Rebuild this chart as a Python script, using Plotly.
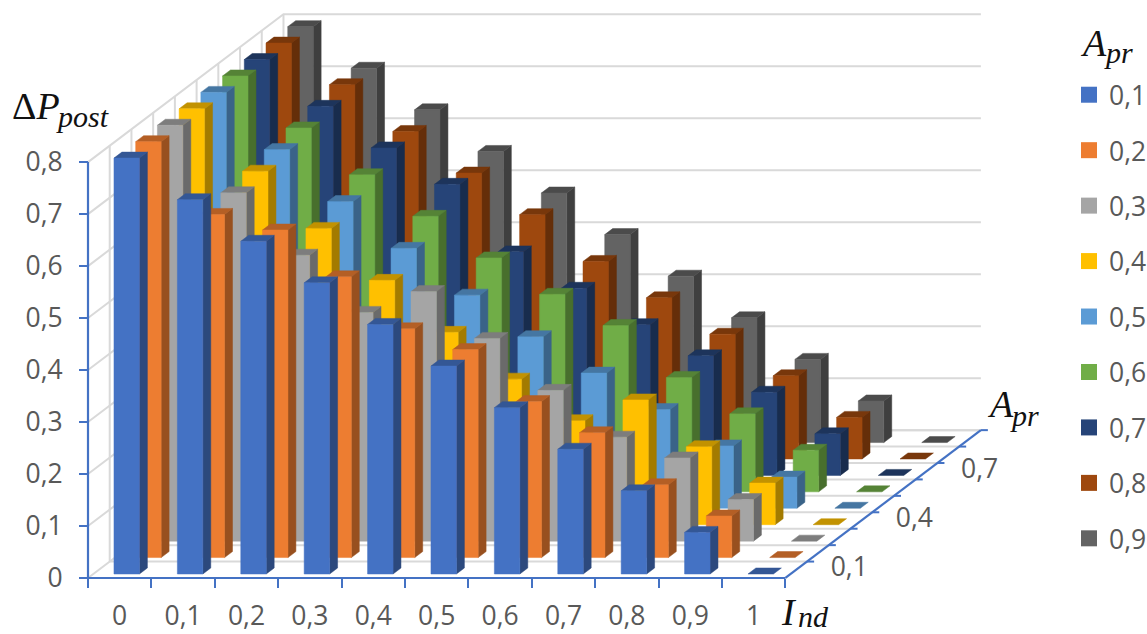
import plotly.graph_objects as go

# Categories along the front axis and the value axis
ind_values = [0, 1, 2, 3, 4, 5, 6, 7, 8, 9, 10]
ind_labels = ["0", "0,1", "0,2", "0,3", "0,4", "0,5", "0,6", "0,7", "0,8", "0,9", "1"]
value_ticks = [0, 0.1, 0.2, 0.3, 0.4, 0.5, 0.6, 0.7, 0.8]
value_labels = ["0", "0,1", "0,2", "0,3", "0,4", "0,5", "0,6", "0,7", "0,8"]
apr_labels = ["0,1", "0,2", "0,3", "0,4", "0,5", "0,6", "0,7", "0,8", "0,9"]

# Delta P post for each A_pr series, one value per I_nd category
apr_01 = [0.80, 0.72, 0.64, 0.56, 0.48, 0.40, 0.32, 0.24, 0.16, 0.08, 0]
apr_02 = [0.80, 0.66, 0.63, 0.54, 0.44, 0.40, 0.30, 0.24, 0.14, 0.08, 0]
apr_03 = [0.80, 0.67, 0.55, 0.44, 0.48, 0.39, 0.29, 0.20, 0.16, 0.08, 0]
apr_04 = [0.80, 0.68, 0.57, 0.47, 0.37, 0.28, 0.20, 0.24, 0.15, 0.08, 0]
apr_05 = [0.80, 0.69, 0.59, 0.50, 0.41, 0.33, 0.26, 0.19, 0.12, 0.06, 0]
apr_06 = [0.80, 0.70, 0.61, 0.53, 0.45, 0.38, 0.32, 0.22, 0.15, 0.08, 0]
apr_07 = [0.80, 0.71, 0.63, 0.56, 0.43, 0.36, 0.29, 0.23, 0.16, 0.08, 0]
apr_08 = [0.80, 0.72, 0.63, 0.55, 0.47, 0.38, 0.31, 0.24, 0.16, 0.08, 0]
apr_09 = [0.80, 0.72, 0.64, 0.56, 0.48, 0.40, 0.32, 0.24, 0.16, 0.08, 0]
series = [apr_01, apr_02, apr_03, apr_04, apr_05, apr_06, apr_07, apr_08, apr_09]

colors = ["#4472C4", "#ED7D31", "#A5A5A5", "#FFC000", "#5B9BD5",
          "#70AD47", "#264478", "#9E480E", "#636363"]

WIDTH, HEIGHT = 1147, 634
ORIGIN_X, ORIGIN_Y = 88.0, 577.7  # pixel position of the chart origin
PAD = 10.0                        # room around the origin so axis lines are not clipped
LEFT, BOTTOM = ORIGIN_X - PAD, ORIGIN_Y + PAD
RIGHT = 1000.0
PX_PER_CAT = 63.4
PX_PER_VAL = 519.6

# Oblique projection: one depth row moves a point right and up
ROW_X = 21.72 / PX_PER_CAT
ROW_Y = 16.42 / PX_PER_VAL
ROWS = 9
BAR_LEFT, BAR_W = -0.174, 0.402   # in categories
BAR_FRONT, BAR_D = 0.244, 0.365   # in depth rows

GRID = "#D9D9D9"
AXIS = "#4472C4"
TEXT = "#595959"
LABEL_FONT = "Open Sans"
LABEL_SIZE = 26.5
MATH_FONT = "Liberation Serif"


def project(cat, depth, val):
    return cat + depth * ROW_X, val + depth * ROW_Y


def shade(hex_color, k):
    r, g, b = (int(hex_color[i:i + 2], 16) for i in (1, 3, 5))
    return f"rgb({r * k:.0f},{g * k:.0f},{b * k:.0f})"


def polygons(faces):
    xs, ys = [], []
    for face in faces:
        pts = [project(*p) for p in face]
        xs += [p[0] for p in pts] + [pts[0][0], None]
        ys += [p[1] for p in pts] + [pts[0][1], None]
    return xs, ys


fig = go.Figure()
x_min = -0.5
x_end = 10.5
v_top = value_ticks[-1]
x_range = [x_min - PAD / PX_PER_CAT, x_min + (RIGHT - ORIGIN_X) / PX_PER_CAT]
y_range = [-PAD / PX_PER_VAL, ORIGIN_Y / PX_PER_VAL]


def line(xs, ys, color, width):
    fig.add_trace(go.Scatter(x=xs, y=ys, mode="lines", showlegend=False, hoverinfo="skip",
                             line=dict(color=color, width=width)))


# Wall and floor grid
for v in value_ticks:
    p0 = project(x_min, 0, v)
    p1 = project(x_min, ROWS, v)
    p2 = project(x_end, ROWS, v)
    line([p0[0], p1[0], p2[0]], [p0[1], p1[1], p2[1]], GRID, 2)
for k in range(1, ROWS + 1):
    p0 = project(x_min, k, 0)
    p1 = project(x_min, k, v_top)
    p2 = project(x_end, k, 0)
    line([p0[0], p1[0]], [p0[1], p1[1]], GRID, 2)
    line([p0[0], p2[0]], [p0[1], p2[1]], GRID, 2)

# Bars, back row first so that nearer rows paint over farther ones
for row in range(ROWS - 1, -1, -1):
    d0, d1 = row + BAR_FRONT, row + BAR_FRONT + BAR_D
    front, side, top = [], [], []
    for cat, val in zip(ind_values, series[row]):
        c0, c1 = cat + BAR_LEFT, cat + BAR_LEFT + BAR_W
        if val > 0:
            front.append([(c0, d0, 0), (c1, d0, 0), (c1, d0, val), (c0, d0, val)])
            side.append([(c1, d0, 0), (c1, d1, 0), (c1, d1, val), (c1, d0, val)])
        top.append([(c0, d0, val), (c1, d0, val), (c1, d1, val), (c0, d1, val)])
    for faces, k in ((side, 0.64), (top, 0.76), (front, 1.0)):
        xs, ys = polygons(faces)
        color = shade(colors[row], k)
        fig.add_trace(go.Scatter(x=xs, y=ys, mode="lines", fill="toself", fillcolor=color,
                                 line=dict(color=color, width=0.5), showlegend=False,
                                 hoverinfo="skip"))

# Axis lines and the depth axis with its ticks and labels
line([x_min, x_end], [0, 0], AXIS, 2.2)
line([x_min, x_min], [0, v_top], AXIS, 2.2)
end = project(x_end, ROWS, 0)
line([x_end, end[0]], [0, end[1]], AXIS, 2.2)
for k in range(1, ROWS + 1):
    p = project(x_end, k, 0)
    line([p[0], p[0] + 7 / PX_PER_CAT], [p[1], p[1]], AXIS, 2)

depth_ticks = [0, 3, 6]
depth_texts = [apr_labels[i] for i in depth_ticks]
anchors = [project(x_end, i + 0.5, 0) for i in depth_ticks]
fig.add_trace(go.Scatter(x=[p[0] + 53 / PX_PER_CAT for p in anchors], y=[p[1] for p in anchors],
                         mode="text", text=depth_texts, showlegend=False, hoverinfo="skip",
                         textfont=dict(family=LABEL_FONT, size=LABEL_SIZE, color=TEXT), cliponaxis=False))

# Legend entries, each in its own group so the gap sets the row spacing
for name, color in zip(apr_labels, colors):
    fig.add_trace(go.Scatter(x=[None], y=[None], mode="markers", name=name, legendgroup=name,
                             marker=dict(symbol="square", size=17, color=color)))


def px_x(px):
    return (px - LEFT) / (RIGHT - LEFT)


def px_y(px):
    return (BOTTOM - px) / BOTTOM


def math_text(x, y, text, size):
    fig.add_annotation(x=px_x(x), y=px_y(y), xref="paper", yref="paper", text=text, showarrow=False,
                       xanchor="left", yanchor="middle", align="left",
                       font=dict(family=MATH_FONT, size=size, color="#111111"))


# Math-style axis and legend titles
math_text(10, 106, "Δ<i>P</i>", 38)
math_text(54, 116, "<i>post</i>", 30)
math_text(1078, 43, "<i>A</i>", 38)
math_text(1102, 52, "<i>pr</i>", 30)
math_text(985, 404, "<i>A</i>", 38)
math_text(1008, 415, "<i>pr</i>", 30)
math_text(779, 612, "<i>I</i>", 38)
math_text(796, 616, "<i>nd</i>", 30)

fig.update_layout(
    width=WIDTH, height=HEIGHT, autosize=False,
    margin=dict(l=LEFT, r=WIDTH - RIGHT, t=0, b=HEIGHT - BOTTOM, pad=0),
    paper_bgcolor="white", plot_bgcolor="white",
    font=dict(family=LABEL_FONT, size=LABEL_SIZE, color=TEXT),
    xaxis=dict(range=x_range, tickmode="array", tickvals=ind_values, ticktext=ind_labels,
               anchor="free", position=px_y(ORIGIN_Y),
               ticks="", showgrid=False, zeroline=False, showline=False, ticklabelstandoff=20,
               tickfont=dict(family=LABEL_FONT, size=LABEL_SIZE, color=TEXT),
               minor=dict(tickmode="array", tickvals=[i - 0.5 for i in range(12)], ticks="outside",
                          ticklen=9, tickwidth=2.2, tickcolor=AXIS, showgrid=False)),
    yaxis=dict(range=y_range, tickmode="array", tickvals=value_ticks, ticktext=value_labels,
               anchor="free", position=px_x(ORIGIN_X),
               ticks="outside", ticklen=9, tickwidth=2.2, tickcolor=AXIS, showgrid=False, zeroline=False,
               showline=False, ticklabelstandoff=11,
               tickfont=dict(family=LABEL_FONT, size=LABEL_SIZE, color=TEXT)),
    legend=dict(xref="container", yref="container", x=1069 / WIDTH, y=1 - 71 / HEIGHT,
                xanchor="left", yanchor="top", tracegroupgap=18, itemwidth=30, maxheight=560,
                bgcolor="rgba(0,0,0,0)", font=dict(family=LABEL_FONT, size=LABEL_SIZE, color=TEXT)),
)

fig.write_html("out.html")
